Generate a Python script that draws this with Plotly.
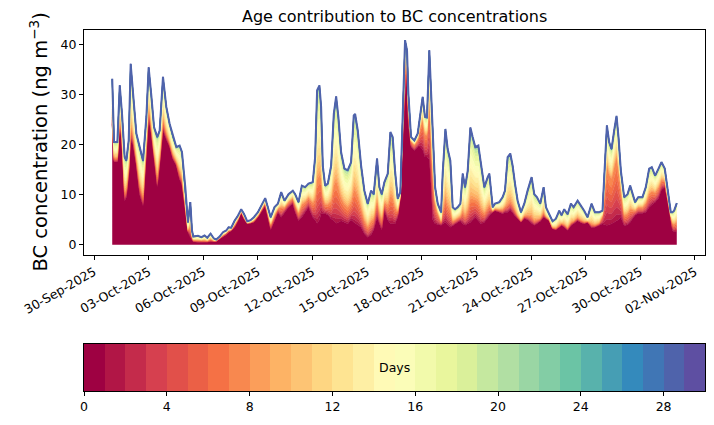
import numpy as np
import pandas as pd
import plotly.graph_objects as go

# ---------------- data ----------------
# hours since 2025-10-01 00:00
hours = [0, 2.4, 6.8, 9.9, 12.9, 16.4, 18.6, 21.7, 24.3, 27.4, 31.8, 36.2, 40.6, 45.0, 48.0, 51.5, 55.1, 59.4,
         62.5, 66.9, 71.3, 75.7, 80.1, 84.5, 88.8, 91.9, 96.3, 99.8,
         102.9, 105.1, 106.8, 113.0, 117.4, 121.7, 125.3, 129.6, 134.0, 137.1, 141.5, 145.9, 150.3, 153.3,
         156.8, 161.2, 165.6, 170.0, 173.5, 177.9, 182.3, 186.7, 192.0, 197.2, 201.6, 205.1,
         208.8, 213.9, 218.3, 222.7, 227.0, 232.3, 238.0, 241.1, 245.5, 249.9, 254.2, 258.6, 264.3, 267.4,
         270.0, 273.1, 275.3, 277.5, 280.6, 284.1, 288.5, 292.0, 295.1, 298.1, 301.6, 306.0, 310.4,
         314.8, 318.3, 320.1, 323.6, 328.0, 332.3, 336.7, 341.1, 344.6, 349.0, 352.1, 355.2, 358.7, 363.1,
         366.6, 369.6, 372.7, 376.2, 379.7, 382.8, 385.9, 388.5, 390.3, 393.8, 398.2, 402.6, 406.1, 409.1,
         412.2, 414.8, 417.9,
         420.2, 422.4, 425.5, 429.0, 433.4, 435.5, 439.1, 442.1, 445.6, 448.7, 451.8, 455.3, 458.8, 461.9,
         465.0, 468.5, 472.0, 475.0, 478.5, 482.5, 486.0, 490.4, 494.8, 497.0, 501.4, 504.4, 510.1, 514.5,
         517.6, 521.1, 524.6,
         527.7, 530.8, 534.3, 538.7, 543.0, 547.4, 552.7, 556.2, 559.7, 564.1, 568.5, 571.6, 575.9, 580.3,
         584.7, 589.1, 592.2, 595.7, 600.1, 604.5, 608.0, 613.3, 617.6, 622.0, 626.4,
         631.7, 636.1, 641.8, 646.1, 649.2, 651.9, 654.9, 658.0, 661.5, 664.6, 667.2, 670.3, 674.7, 679.1,
         682.6, 685.6, 689.1, 693.1, 698.8, 703.2, 707.6, 711.1, 715.5, 719.9, 723.8, 728.2, 731.7, 736.1,
         738.3, 740.5, 744.0]

# total BC concentration (top line), ng m-3
total = [33.1, 20.5, 20.5, 31.8, 26.1, 17.5, 16.8, 20.8, 36.1, 29.5, 22.2, 19.5, 16.8, 25.5, 35.4, 29.8, 23.5, 21.5,
         22.8, 33.5, 27.5, 24.1, 21.5, 19.5, 19.8, 18.5, 11.5, 4.5,
         8.5, 2.85, 1.65, 1.8, 1.5, 1.85, 1.4, 2.2, 1.25, 1.05, 1.65, 2.5, 2.85, 3.5,
         3.4, 4.8, 5.8, 7.1, 6.2, 4.7, 4.9, 5.5, 6.5, 8.2, 9.3, 7.5,
         5.5, 7.5, 8.2, 10.5, 8.8, 10.1, 10.8, 10.1, 8.5, 11.8, 11.5, 12.2, 12.5, 17.5,
         30.8, 31.8, 27.5, 15.8, 11.8, 12.2, 15.8, 26.1, 29.6, 25.4, 18.5, 15.2, 14.9,
         16.5, 25.8, 26.1, 22.8, 15.8, 10.8, 8.2, 10.8, 10.1, 17.2, 11.5, 10.1, 12.5, 14.2,
         22.5, 21.5, 14.8, 9.2, 10.5, 26.1, 40.8, 38.8, 30.1, 21.5, 20.8, 22.2, 26.8, 29.5,
         25.5, 25.4, 38.8,
         29.5, 21.5, 11.5, 8.2, 6.5, 14.2, 23.1, 19.1, 16.8, 7.5, 7.1, 7.5, 8.2, 14.2,
         11.5, 14.8, 23.4, 21.5, 19.5, 19.8, 15.8, 11.5, 13.5, 14.2, 7.5, 8.2, 8.5, 9.5,
         10.8, 17.5, 18.2,
         15.8, 12.2, 8.8, 6.5, 8.2, 10.8, 13.5, 10.1, 9.5, 8.2, 11.5, 7.5, 6.1, 4.7,
         5.2, 6.8, 5.9, 7.1, 6.1, 8.2, 7.5, 8.8, 7.8, 6.8, 5.5,
         8.2, 6.5, 6.5, 6.8, 15.8, 23.8, 20.5, 19.1, 22.8, 25.7, 21.5, 14.8, 9.5, 10.1,
         11.8, 10.1, 8.5, 9.5, 9.5, 11.5, 15.2, 15.5, 13.8, 15.2, 16.5, 15.2, 11.5, 6.5,
         6.5, 6.8, 8.3]

# contribution of the youngest air (age 0-1 day, dark red base layer)
base = [24.0, 16.5, 16.5, 24.8, 20.0, 8.8, 9.5, 14.0, 20.8, 20.0, 15.8, 10.0, 7.8, 18.0, 25.5, 22.0, 17.0, 11.5,
        16.0, 22.8, 21.0, 19.5, 17.0, 15.8, 13.0, 12.0, 7.0, 2.5,
        1.5, 1.0, 0.6, 0.5, 0.5, 0.5, 0.5, 0.6, 0.6, 0.7, 1.2, 1.6, 2.0, 2.5,
        2.8, 3.5, 4.8, 6.5, 5.2, 4.2, 4.3, 4.5, 5.5, 6.8, 7.8, 5.5,
        3.0, 4.8, 6.5, 5.5, 6.5, 7.5, 8.2, 6.5, 4.8, 5.5, 6.5, 7.5, 5.5, 5.0,
        4.3, 5.0, 6.2, 6.2, 6.2, 6.0, 5.2, 4.8, 4.3, 4.5, 4.8, 4.5, 4.2,
        5.0, 4.5, 4.3, 4.0, 3.5, 2.2, 1.5, 2.0, 3.0, 5.5, 4.0, 2.9, 6.8, 5.0,
        4.2, 4.2, 4.2, 5.5, 9.5, 22.0, 30.0, 33.0, 24.0, 19.5, 18.8, 19.5, 19.5, 19.0,
        17.5, 17.5, 17.0,
        12.0, 5.0, 4.2, 4.0, 3.9, 4.2, 4.5, 4.0, 3.5, 3.8, 4.2, 4.5, 4.8, 4.2,
        3.9, 4.2, 4.5, 5.0, 5.5, 4.8, 4.2, 4.5, 5.5, 5.8, 6.5, 6.8, 6.5, 6.2,
        6.5, 6.5, 7.0,
        6.5, 5.8, 5.2, 4.5, 5.3, 5.0, 4.3, 3.9, 4.2, 4.7, 5.5, 5.2, 4.8, 3.2,
        3.0, 3.5, 3.9, 3.5, 2.9, 3.8, 4.2, 4.8, 4.4, 4.2, 4.5,
        3.4, 3.5, 3.9, 4.2, 4.0, 3.9, 4.0, 4.2, 4.5, 4.8, 5.0, 5.5, 3.8, 4.0,
        4.5, 5.2, 5.9, 6.3, 6.3, 6.5, 7.5, 8.0, 8.5, 9.3, 11.0, 11.5, 9.0, 5.0,
        2.9, 2.6, 2.5]

# share of the remaining (older than 1 day) part that is 1-7 days old, by period
fresh_start_hours = [0, 100, 200, 265, 310, 380, 430, 520, 645, 672]
fresh_share = [0.20, 0.30, 0.40, 0.33, 0.30, 0.55, 0.25, 0.15, 0.60, 0.35]

# relative age profile inside the 1-7 day group and the 8-29 day group
fresh_weights = [0.10, 0.12, 0.13, 0.14, 0.15, 0.17, 0.19]
aged_weights = [0.05, 0.06, 0.07, 0.08, 0.09, 0.10, 0.11, 0.11, 0.10, 0.09, 0.07,
                0.05, 0.03, 0.015, 0.01, 0.006, 0.005, 0.004, 0.003, 0.003, 0.003, 0.003]

start_time = "2025-10-01 00:00"
tick_dates = ["2025-09-30", "2025-10-03", "2025-10-06", "2025-10-09", "2025-10-12", "2025-10-15",
              "2025-10-18", "2025-10-21", "2025-10-24", "2025-10-27", "2025-10-30", "2025-11-02"]
tick_labels = ["30-Sep-2025", "03-Oct-2025", "06-Oct-2025", "09-Oct-2025", "12-Oct-2025", "15-Oct-2025",
               "18-Oct-2025", "21-Oct-2025", "24-Oct-2025", "27-Oct-2025", "30-Oct-2025", "02-Nov-2025"]
y_ticks = [0, 10, 20, 30, 40]
n_days = 30
cbar_ticks = [0, 4, 8, 12, 16, 20, 24, 28]

# ---------------- colours: matplotlib "Spectral" ----------------
spectral_anchors = [
    (0.6196, 0.0039, 0.2588), (0.8353, 0.2431, 0.3098), (0.9569, 0.4275, 0.2627),
    (0.9922, 0.6824, 0.3804), (0.9961, 0.8784, 0.5451), (1.0, 1.0, 0.7490),
    (0.9020, 0.9608, 0.5961), (0.6706, 0.8667, 0.6431), (0.4, 0.7608, 0.6471),
    (0.1961, 0.5333, 0.7412), (0.3686, 0.3098, 0.6353)]
anc = np.array(spectral_anchors)
apos = np.linspace(0, 1, len(anc))


def spectral(v):
    r = np.interp(v, apos, anc[:, 0]); g = np.interp(v, apos, anc[:, 1]); b = np.interp(v, apos, anc[:, 2])
    return "rgb(%d,%d,%d)" % (round(r * 255), round(g * 255), round(b * 255))


colors = [spectral(v) for v in np.linspace(0, 1, n_days)]
top_color = spectral(28 / 29)

# ---------------- layers ----------------
h = np.array(hours)
T = np.array(total)
B = np.minimum(np.array(base), T)
R = T - B
idx = np.searchsorted(fresh_start_hours, h, side="right") - 1
fs = np.array(fresh_share)[idx]
fw = np.array(fresh_weights) / np.sum(fresh_weights)
aw = np.array(aged_weights) / np.sum(aged_weights)
layers = [B] + [R * fs * w for w in fw] + [R * (1 - fs) * w for w in aw]

times = pd.Timestamp(start_time) + pd.to_timedelta(h, unit="h")

fig = go.Figure()
for k, y in enumerate(layers):
    fig.add_trace(go.Scatter(x=times, y=y, stackgroup="age", mode="lines",
                             line=dict(width=0.6, color=colors[k]), fillcolor=colors[k],
                             hoverinfo="skip", showlegend=False))
fig.add_trace(go.Scatter(x=times, y=T, mode="lines", line=dict(color=top_color, width=2),
                         showlegend=False, hoverinfo="skip"))

# colour bar drawn as 30 unit cells
fig.add_trace(go.Bar(x=[k + 0.5 for k in range(n_days)], y=[1] * n_days, width=1,
                     marker=dict(color=colors, line=dict(width=0)),
                     xaxis="x2", yaxis="y2", showlegend=False, hoverinfo="skip"))

FONT = "DejaVu Sans"
H = 425 - 30 - 34
main_bottom = (391 - 255) / H
cbar_top = (391 - 344) / H

axis_common = dict(showline=True, mirror=True, linecolor="black", linewidth=1,
                   ticks="outside", ticklen=4, tickwidth=1, tickcolor="black",
                   showgrid=False, zeroline=False, automargin=False,
                   tickfont=dict(family=FONT, size=12.5, color="black"))

fig.update_layout(
    width=714, height=425,
    margin=dict(l=84, r=9, t=30, b=34, autoexpand=False),
    plot_bgcolor="white", paper_bgcolor="white",
    bargap=0,
    xaxis=dict(domain=[0, 1], anchor="y", type="date",
               range=["2025-09-29 10:48", "2025-11-02 13:12"],
               tickvals=tick_dates, ticktext=tick_labels, tickangle=-30, **axis_common),
    yaxis=dict(domain=[main_bottom, 1], anchor="x", range=[-2.04, 42.84],
               tickvals=y_ticks, **axis_common),
    xaxis2=dict(domain=[0, 1], anchor="y2", range=[0, n_days], tickvals=cbar_ticks, **axis_common),
    yaxis2=dict(domain=[0, cbar_top], anchor="x2", range=[0, 1], showline=True, mirror=True,
                linecolor="black", linewidth=1, showticklabels=False, ticks="",
                showgrid=False, zeroline=False, automargin=False),
    annotations=[
        dict(text="Age contribution to BC concentrations", xref="paper", yref="paper",
             x=0.5, y=1 + 13 / H, xanchor="center", yanchor="middle", showarrow=False,
             font=dict(family=FONT, size=16, color="black")),
        dict(text="BC concentration (ng m<sup>−3</sup>)", xref="paper", yref="paper",
             x=-(84 - 38) / 621, y=(main_bottom + 1) / 2, textangle=-90,
             xanchor="center", yanchor="middle", showarrow=False,
             font=dict(family=FONT, size=19.5, color="black")),
        dict(text="Days", xref="x2", yref="y2", x=15, y=0.5, showarrow=False,
             xanchor="center", yanchor="middle",
             font=dict(family=FONT, size=12.5, color="black")),
    ],
)

fig.write_html("out.html", config={"displayModeBar": False},
               post_script="document.body.style.margin='0';document.body.style.overflow='hidden';")
